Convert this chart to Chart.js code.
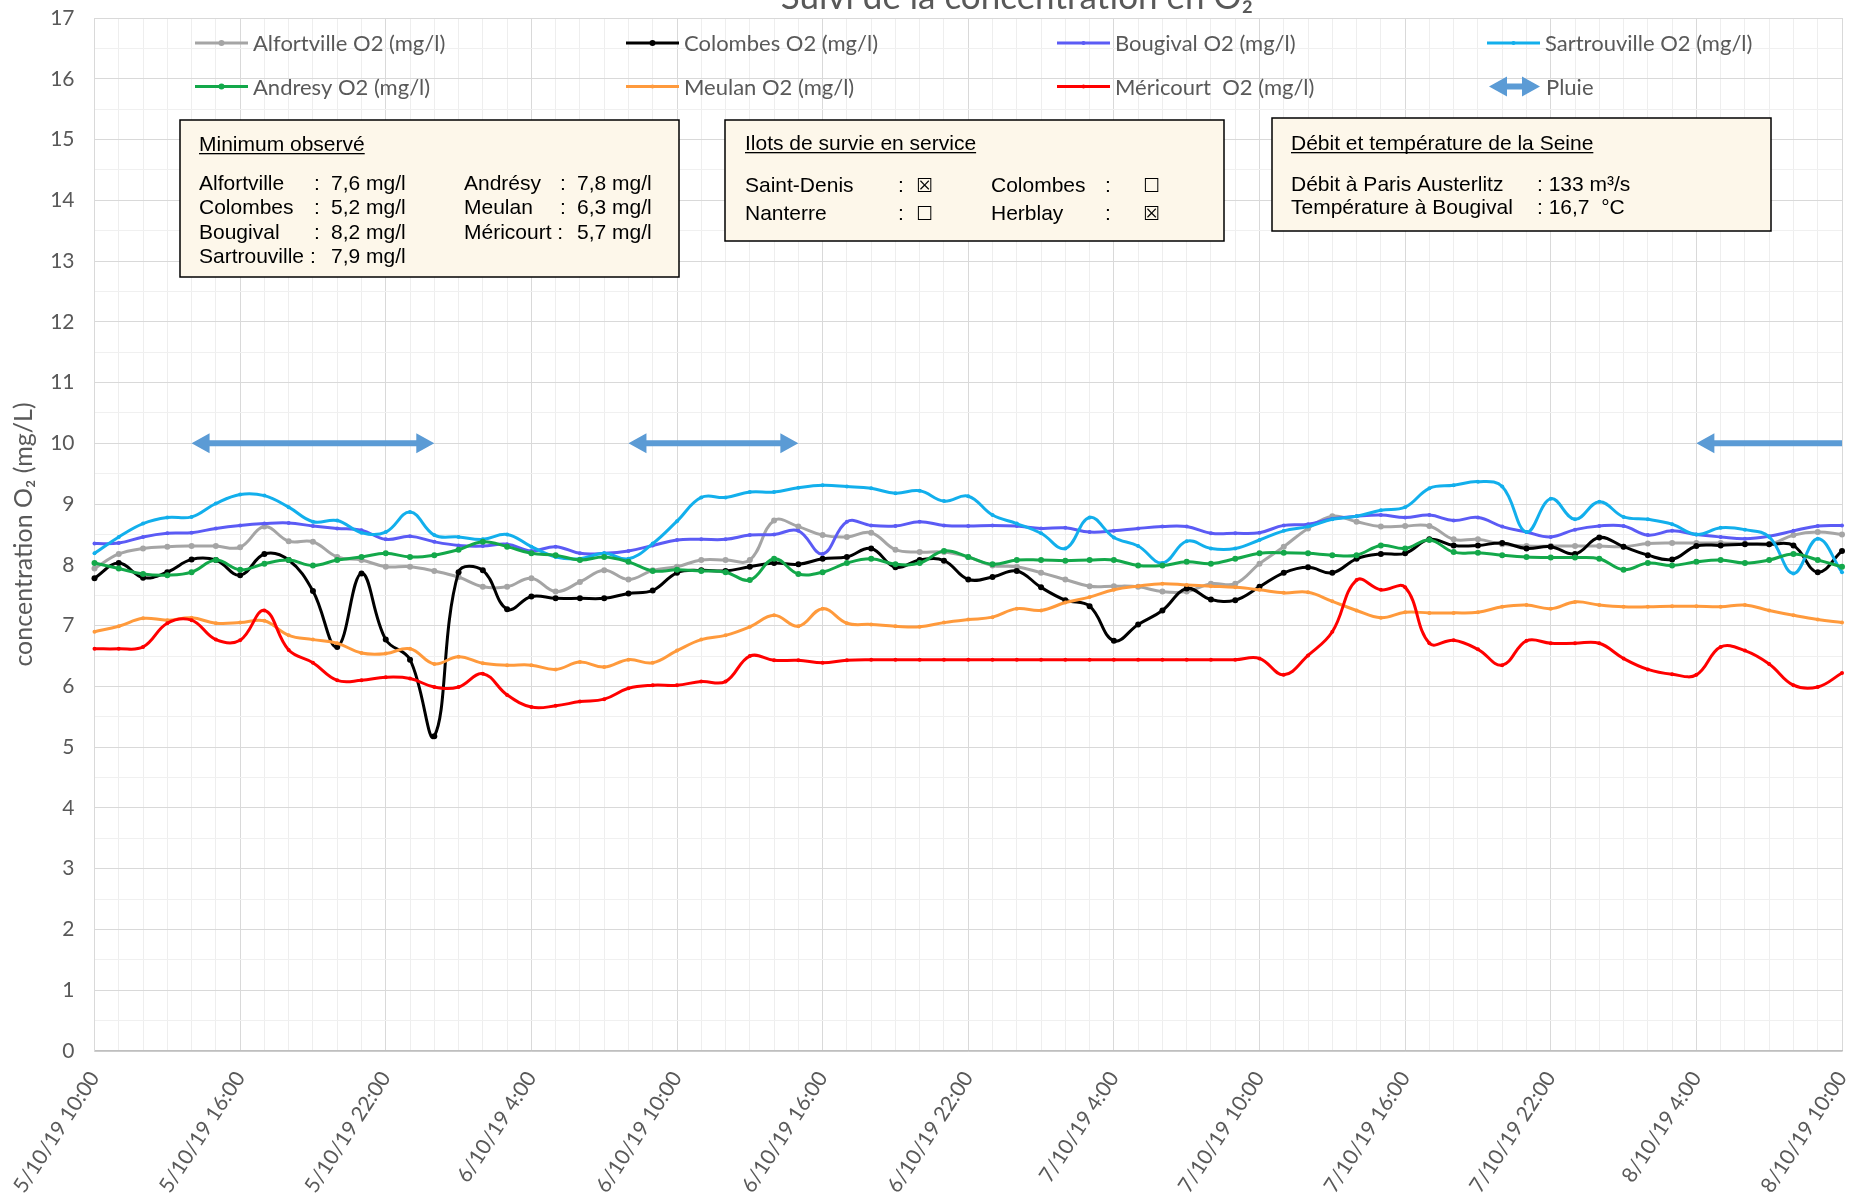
<!DOCTYPE html>
<html>
<head>
<meta charset="utf-8">
<title>Suivi de la concentration en O2</title>
<script src="https://cdn.jsdelivr.net/npm/chart.js@4.4.1/dist/chart.umd.min.js"></script>
<style>
    html, body { margin: 0; padding: 0; background: #ffffff; }
    #wrap { width: 1851px; height: 1203px; }
</style>
</head>
<body>
<div id="wrap"><canvas id="o2Chart" width="1851" height="1203"></canvas></div>
<script>
// ===============================================
// Data - hourly readings, 5/10/19 10:00 -> 8/10/19 10:00
// ===============================================
const tickLabels = ['5/10/19 10:00', '5/10/19 16:00', '5/10/19 22:00', '6/10/19 4:00', '6/10/19 10:00',
    '6/10/19 16:00', '6/10/19 22:00', '7/10/19 4:00', '7/10/19 10:00', '7/10/19 16:00',
    '7/10/19 22:00', '8/10/19 4:00', '8/10/19 10:00'];

const alfortville = [7.94, 8.18, 8.27, 8.30, 8.31, 8.31, 8.29, 8.63, 8.39, 8.38,
    8.13, 8.08, 7.97, 7.97, 7.90, 7.80, 7.64, 7.64, 7.78, 7.56,
    7.72, 7.91, 7.76, 7.91, 7.97, 8.08, 8.08, 8.08, 8.73, 8.63,
    8.49, 8.46, 8.53, 8.25, 8.21, 8.21, 8.13, 7.99, 7.97, 7.87,
    7.76, 7.65, 7.65, 7.64, 7.56, 7.56, 7.69, 7.69, 8.02, 8.30,
    8.60, 8.80, 8.71, 8.63, 8.64, 8.64, 8.42, 8.42, 8.34, 8.31,
    8.31, 8.31, 8.31, 8.30, 8.35, 8.36, 8.36, 8.36, 8.35, 8.34,
    8.49, 8.54, 8.50];

const colombes = [7.78, 8.03, 7.79, 7.88, 8.09, 8.08, 7.83, 8.18, 8.08, 7.57,
    6.65, 7.86, 6.77, 6.44, 5.18, 7.88, 7.91, 7.27, 7.48, 7.45,
    7.45, 7.45, 7.53, 7.58, 7.87, 7.91, 7.90, 7.97, 8.03, 8.01,
    8.10, 8.13, 8.27, 7.96, 8.08, 8.07, 7.76, 7.80, 7.90, 7.63,
    7.42, 7.32, 6.75, 7.02, 7.25, 7.61, 7.43, 7.42, 7.64, 7.87,
    7.96, 7.87, 8.10, 8.18, 8.19, 8.42, 8.32, 8.32, 8.36, 8.27,
    8.30, 8.18, 8.45, 8.30, 8.16, 8.09, 8.31, 8.32, 8.34, 8.34,
    8.32, 7.88, 8.23];

const bougival = [8.35, 8.36, 8.46, 8.52, 8.53, 8.60, 8.65, 8.68, 8.69, 8.64,
    8.60, 8.57, 8.42, 8.47, 8.38, 8.32, 8.31, 8.34, 8.23, 8.30,
    8.19, 8.19, 8.23, 8.32, 8.41, 8.42, 8.42, 8.49, 8.50, 8.56,
    8.18, 8.71, 8.65, 8.64, 8.71, 8.65, 8.64, 8.65, 8.64, 8.60,
    8.61, 8.54, 8.56, 8.60, 8.63, 8.63, 8.52, 8.52, 8.53, 8.65,
    8.67, 8.76, 8.80, 8.82, 8.78, 8.82, 8.73, 8.78, 8.63, 8.54,
    8.46, 8.58, 8.64, 8.64, 8.49, 8.56, 8.50, 8.46, 8.43, 8.47,
    8.56, 8.64, 8.65];

const sartrouville = [8.19, 8.46, 8.68, 8.78, 8.79, 9.01, 9.16, 9.14, 8.95, 8.71,
    8.73, 8.53, 8.54, 8.87, 8.49, 8.46, 8.42, 8.50, 8.30, 8.13,
    8.10, 8.19, 8.10, 8.35, 8.72, 9.11, 9.11, 9.20, 9.20, 9.27,
    9.31, 9.29, 9.26, 9.18, 9.22, 9.05, 9.13, 8.82, 8.68, 8.52,
    8.27, 8.78, 8.45, 8.31, 8.03, 8.39, 8.27, 8.27, 8.41, 8.56,
    8.63, 8.75, 8.80, 8.90, 8.95, 9.26, 9.31, 9.37, 9.29, 8.54,
    9.09, 8.75, 9.04, 8.79, 8.75, 8.67, 8.50, 8.61, 8.58, 8.46,
    7.86, 8.43, 7.88];

const andresy = [8.03, 7.94, 7.85, 7.83, 7.88, 8.08, 7.92, 8.02, 8.08, 7.99,
    8.08, 8.13, 8.19, 8.13, 8.16, 8.25, 8.38, 8.30, 8.19, 8.16,
    8.08, 8.13, 8.05, 7.90, 7.92, 7.90, 7.88, 7.75, 8.10, 7.85,
    7.88, 8.03, 8.10, 8.01, 8.03, 8.23, 8.13, 8.01, 8.08, 8.08,
    8.07, 8.08, 8.08, 7.99, 7.99, 8.05, 8.02, 8.10, 8.19, 8.20,
    8.19, 8.16, 8.16, 8.32, 8.27, 8.41, 8.21, 8.20, 8.16, 8.13,
    8.12, 8.12, 8.10, 7.92, 8.03, 7.99, 8.05, 8.08, 8.03, 8.08,
    8.18, 8.08, 7.97];

const meulan = [6.90, 6.99, 7.12, 7.09, 7.13, 7.04, 7.05, 7.08, 6.84, 6.77,
    6.71, 6.55, 6.54, 6.62, 6.37, 6.49, 6.38, 6.35, 6.35, 6.28,
    6.40, 6.32, 6.44, 6.39, 6.59, 6.77, 6.84, 6.98, 7.17, 6.99,
    7.28, 7.04, 7.02, 6.99, 6.98, 7.05, 7.10, 7.14, 7.28, 7.25,
    7.38, 7.47, 7.59, 7.65, 7.69, 7.67, 7.65, 7.63, 7.59, 7.54,
    7.55, 7.40, 7.25, 7.13, 7.22, 7.21, 7.21, 7.22, 7.31, 7.34,
    7.28, 7.39, 7.34, 7.31, 7.31, 7.32, 7.32, 7.31, 7.34, 7.25,
    7.17, 7.10, 7.05];

const mericourt = [6.62, 6.62, 6.65, 7.04, 7.09, 6.77, 6.76, 7.25, 6.60, 6.39,
    6.10, 6.10, 6.15, 6.13, 5.99, 5.99, 6.21, 5.86, 5.66, 5.68,
    5.75, 5.79, 5.97, 6.02, 6.02, 6.08, 6.08, 6.50, 6.43, 6.43,
    6.39, 6.43, 6.44, 6.44, 6.44, 6.44, 6.44, 6.44, 6.44, 6.44,
    6.44, 6.44, 6.44, 6.44, 6.44, 6.44, 6.44, 6.44, 6.46, 6.19,
    6.51, 6.90, 7.75, 7.59, 7.63, 6.71, 6.76, 6.61, 6.35, 6.75,
    6.71, 6.71, 6.71, 6.46, 6.28, 6.20, 6.19, 6.65, 6.59, 6.37,
    6.02, 5.99, 6.22];

// Rain periods (hour index from start) drawn as arrows at rainLevel
const rainStart = [4, 22, 66];
const rainEnd = [14, 29, 72];
const rainLevel = 10;

// ===============================================
// Series definitions
// ===============================================
const series = [
    { label: 'Alfortville O2 (mg/l)', data: alfortville, color: '#A5A5A5', dot: 3 },
    { label: 'Colombes O2 (mg/l)', data: colombes, color: '#000000', dot: 3 },
    { label: 'Bougival O2 (mg/l)', data: bougival, color: '#5B5BF5', dot: 2 },
    { label: 'Sartrouville O2 (mg/l)', data: sartrouville, color: '#12AFEC', dot: 2 },
    { label: 'Andresy O2 (mg/l)', data: andresy, color: '#13A84A', dot: 3 },
    { label: 'Meulan O2 (mg/l)', data: meulan, color: '#FF9A3C', dot: 2 },
    { label: 'Méricourt  O2 (mg/l)', data: mericourt, color: '#FF0000', dot: 2 }
];

const hourLabels = alfortville.map((_, i) => i % 6 === 0 ? tickLabels[i / 6] : '');

const GRAY_TEXT = '#595959';
const RAIN_BLUE = '#5B9BD5';

// ===============================================
// Drawing helpers
// ===============================================
function drawDoubleArrow(ctx, x1, x2, y, headLeft, headRight) {
    const hl = 18, hh = 10, sw = 3;
    ctx.beginPath();
    if (headLeft) {
        ctx.moveTo(x1, y);
        ctx.lineTo(x1 + hl, y - hh);
        ctx.lineTo(x1 + hl, y - sw);
    } else {
        ctx.moveTo(x1, y - sw);
    }
    if (headRight) {
        ctx.lineTo(x2 - hl, y - sw);
        ctx.lineTo(x2 - hl, y - hh);
        ctx.lineTo(x2, y);
        ctx.lineTo(x2 - hl, y + hh);
        ctx.lineTo(x2 - hl, y + sw);
    } else {
        ctx.lineTo(x2, y - sw);
        ctx.lineTo(x2, y + sw);
    }
    if (headLeft) {
        ctx.lineTo(x1 + hl, y + sw);
        ctx.lineTo(x1 + hl, y + hh);
    } else {
        ctx.lineTo(x1, y + sw);
    }
    ctx.closePath();
    ctx.fillStyle = RAIN_BLUE;
    ctx.fill();
}

function underlined(ctx, text, x, y) {
    ctx.fillText(text, x, y);
    const w = ctx.measureText(text).width;
    ctx.fillRect(x, y + 2, w, 1.3);
}

function drawBox(ctx, x, y, w, h) {
    ctx.fillStyle = '#FDF7EA';
    ctx.fillRect(x, y, w, h);
    ctx.strokeStyle = '#000000';
    ctx.lineWidth = 1.5;
    ctx.strokeRect(x, y, w, h);
    ctx.fillStyle = '#000000';
}

const decorPlugin = {
    id: 'decor',
    afterDatasetsDraw(chart) {
        const { ctx, chartArea, scales } = chart;
        const last = alfortville.length - 1;
        ctx.save();
        ctx.beginPath();
        ctx.rect(chartArea.left, chartArea.top, chartArea.right - chartArea.left, chartArea.bottom - chartArea.top);
        ctx.clip();
        rainStart.forEach((s, i) => {
            const x1 = scales.x.getPixelForValue(s);
            const x2 = scales.x.getPixelForValue(rainEnd[i]);
            const y = scales.y.getPixelForValue(rainLevel);
            drawDoubleArrow(ctx, x1, x2, y, true, rainEnd[i] < last);
        });
        ctx.restore();
    },
    afterDraw(chart) {
        const ctx = chart.ctx;
        ctx.save();

        // Title (cut by the top edge, as in the original)
        ctx.fillStyle = GRAY_TEXT;
        ctx.font = '35px Lato';
        ctx.textAlign = 'center';
        ctx.textBaseline = 'alphabetic';
        ctx.fillText('Suivi de la concentration en O₂', 1017, 9);

        // Legend: 4 columns x 2 rows inside the plot
        ctx.textAlign = 'left';
        ctx.textBaseline = 'middle';
        ctx.font = '22px Lato';
        const colX = [195, 626, 1057, 1487];
        const rowY = [43, 86.5];
        series.forEach((s, i) => {
            const x = colX[i % 4], y = rowY[Math.floor(i / 4)];
            ctx.strokeStyle = s.color;
            ctx.lineWidth = 3;
            ctx.beginPath();
            ctx.moveTo(x, y);
            ctx.lineTo(x + 53, y);
            ctx.stroke();
            ctx.fillStyle = s.color;
            ctx.beginPath();
            ctx.arc(x + 26.5, y, s.dot, 0, Math.PI * 2);
            ctx.fill();
            ctx.fillStyle = GRAY_TEXT;
            ctx.fillText(s.label, x + 58, y + 1);
        });
        drawDoubleArrow(ctx, colX[3] + 2, colX[3] + 53, rowY[1], true, true);
        ctx.fillStyle = GRAY_TEXT;
        ctx.fillText('Pluie', colX[3] + 59, rowY[1] + 1);

        // Info boxes
        ctx.textBaseline = 'alphabetic';
        ctx.font = '21px "Liberation Sans", Arial, sans-serif';

        drawBox(ctx, 180, 120, 499, 157);
        underlined(ctx, 'Minimum observé', 199, 151);
        const minRows = [
            ['Alfortville', ':', '7,6 mg/l', 'Andrésy', ':', '7,8 mg/l'],
            ['Colombes', ':', '5,2 mg/l', 'Meulan', ':', '6,3 mg/l'],
            ['Bougival', ':', '8,2 mg/l', 'Méricourt :', '', '5,7 mg/l'],
            ['Sartrouville :', '', '7,9 mg/l']
        ];
        minRows.forEach((r, i) => {
            const y = 189.5 + i * 24.6;
            ctx.fillText(r[0], 199, y);
            ctx.fillText(r[1], 314, y);
            ctx.fillText(r[2], 331, y);
            if (r.length > 3) {
                ctx.fillText(r[3], 464, y);
                ctx.fillText(r[4], 560, y);
                ctx.fillText(r[5], 577, y);
            }
        });

        drawBox(ctx, 725, 120, 499, 121);
        underlined(ctx, 'Ilots de survie en service', 745, 150);
        const ilots = [
            ['Saint-Denis', '☒', 'Colombes', '☐'],
            ['Nanterre', '☐', 'Herblay', '☒']
        ];
        ilots.forEach((r, i) => {
            const y = 191.5 + i * 28.5;
            ctx.font = '21px "Liberation Sans", Arial, sans-serif';
            ctx.fillText(r[0], 745, y);
            ctx.fillText(':', 898, y);
            ctx.fillText(r[2], 991, y);
            ctx.fillText(':', 1105, y);
            ctx.font = '19px "DejaVu Sans"';
            ctx.fillText(r[1], 916, y);
            ctx.fillText(r[3], 1143, y);
        });

        ctx.font = '21px "Liberation Sans", Arial, sans-serif';
        drawBox(ctx, 1272, 118, 499, 113);
        underlined(ctx, 'Débit et température de la Seine', 1291, 150);
        ctx.fillText('Débit à Paris Austerlitz', 1291, 190.5);
        ctx.fillText(': 133 m³/s', 1537, 190.5);
        ctx.fillText('Température à Bougival', 1291, 214);
        ctx.fillText(': 16,7  °C', 1537, 214);

        ctx.restore();
    }
};

// ===============================================
// Chart
// ===============================================
new Chart(document.getElementById('o2Chart'), {
    type: 'line',
    data: {
        labels: hourLabels,
        datasets: series.map((s, i) => ({
            label: s.label,
            data: s.data,
            borderColor: s.color,
            backgroundColor: s.color,
            borderWidth: 3,
            pointRadius: s.dot,
            pointBorderWidth: 0,
            pointBackgroundColor: s.color,
            tension: 0.4,
            fill: false,
            order: series.length - i
        }))
    },
    options: {
        responsive: false,
        animation: false,
        events: [],
        layout: { padding: { top: 18, right: 9, left: 0, bottom: 0 } },
        plugins: {
            legend: { display: false },
            tooltip: { enabled: false },
            title: { display: false }
        },
        scales: {
            x: {
                type: 'category',
                offset: false,
                grid: {
                    offset: false,
                    drawTicks: false,
                    color: ctx => ctx.index % 6 === 0 ? '#D9D9D9' : '#EEEEEE'
                },
                border: { color: '#BFBFBF', width: 1.5 },
                ticks: {
                    autoSkip: false,
                    minRotation: 57,
                    maxRotation: 57,
                    padding: 16,
                    color: GRAY_TEXT,
                    font: { family: 'Lato', size: 21 }
                },
                afterFit: s => { s.height = 152; s.paddingLeft = 0; s.paddingRight = 0; s.paddingTop = 0; s.paddingBottom = 0; }
            },
            y: {
                min: 0,
                max: 17,
                grid: {
                    drawTicks: false,
                    color: ctx => (ctx.tick && Number.isInteger(ctx.tick.value)) ? '#D9D9D9' : '#F0F0F0'
                },
                border: { color: '#D9D9D9' },
                ticks: {
                    stepSize: 0.5,
                    autoSkip: false,
                    padding: 20,
                    color: GRAY_TEXT,
                    font: { family: 'Lato', size: 21 },
                    callback: v => Number.isInteger(v) ? v : ''
                },
                title: {
                    display: true,
                    text: 'concentration O₂ (mg/L)',
                    color: GRAY_TEXT,
                    font: { family: 'Lato', size: 25 },
                    padding: { top: 9, bottom: 0 }
                },
                afterFit: s => { s.width = 94.5; s.paddingTop = 0; s.paddingBottom = 0; }
            }
        }
    },
    plugins: [decorPlugin]
});
</script>
</body>
</html>
